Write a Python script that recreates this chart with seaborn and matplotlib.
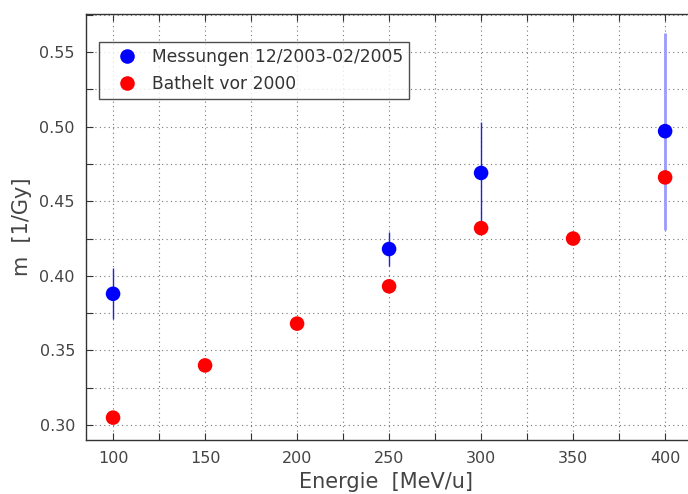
import matplotlib
matplotlib.use("Agg")
import matplotlib.pyplot as plt
from matplotlib.ticker import MultipleLocator
import seaborn as sns
import pandas as pd

# ---- data ----
blue_label = "Messungen 12/2003-02/2005"
red_label = "Bathelt vor 2000"
blue_energy = [100, 250, 300, 400]
blue_m = [0.388, 0.418, 0.469, 0.497]
blue_err = [0.017, 0.0115, 0.034, 0.066]
red_energy = [100, 150, 200, 250, 300, 350, 400]
red_m = [0.305, 0.340, 0.368, 0.393, 0.432, 0.425, 0.466]
x_label = "Energie  [MeV/u]"
y_label = "m  [1/Gy]"

df = pd.DataFrame({
    "E": blue_energy + red_energy,
    "m": blue_m + red_m,
    "series": [blue_label] * len(blue_energy) + [red_label] * len(red_energy),
})

sns.set_style("white")
plt.rcParams['font.family'] = ['DejaVu Sans']

fig = plt.figure(figsize=(6.88, 4.94), dpi=100)
ax = fig.add_axes([0.125, 0.1093, 0.8733, 0.8623])

# error bars (blue series)
err_colors = ["#2222dd", "#2222dd", "#2222dd", "#9a9aff"]
err_lw = [1.0, 1.0, 1.0, 2.0]
for e, m, er, c, lw in zip(blue_energy, blue_m, blue_err, err_colors, err_lw):
    ax.errorbar([e], [m], yerr=[er], fmt="none", ecolor=c, elinewidth=lw,
                capsize=0, zorder=2)

sns.scatterplot(data=df, x="E", y="m", hue="series",
                palette={blue_label: "#0000ff", red_label: "#ff0000"},
                s=110, edgecolor="none", linewidth=0, ax=ax, zorder=3)

ax.set_xlim(85.3, 411.8)
ax.set_ylim(0.29, 0.5755)
ax.xaxis.set_major_locator(MultipleLocator(50))
ax.xaxis.set_minor_locator(MultipleLocator(25))
ax.yaxis.set_major_locator(MultipleLocator(0.05))
ax.yaxis.set_minor_locator(MultipleLocator(0.025))
ax.yaxis.set_major_formatter(matplotlib.ticker.FormatStrFormatter("%.2f"))

ax.grid(True, which="both", linestyle=(0, (1, 3)), color="#777777", linewidth=0.8)
ax.set_axisbelow(True)

ax.tick_params(which="both", direction="in", length=5, width=0.8,
               color="#333333", top=True, right=False, bottom=True, left=True,
               labelsize=11.5, labelcolor="#444444", pad=8)

for side in ["left", "bottom", "top"]:
    ax.spines[side].set_visible(True)
    ax.spines[side].set_color("#333333")
    ax.spines[side].set_linewidth(1.0)
ax.spines["right"].set_visible(False)

ax.set_xlabel(x_label, fontsize=15, color="#444444", labelpad=4)
ax.set_ylabel(y_label, fontsize=15, color="#444444", labelpad=5)

leg = ax.legend(loc="upper left", bbox_to_anchor=(0.022, 0.935), frameon=True,
                fancybox=False, edgecolor="#222222", fontsize=12.3,
                handletextpad=0.15, borderpad=0.35, markerscale=1.0,
                labelspacing=0.55, handlelength=2.6, borderaxespad=0)
leg.get_frame().set_linewidth(1.0)
leg.set_zorder(5)
for t in leg.get_texts():
    t.set_color("#333333")

fig.savefig("out.png", dpi=100)
